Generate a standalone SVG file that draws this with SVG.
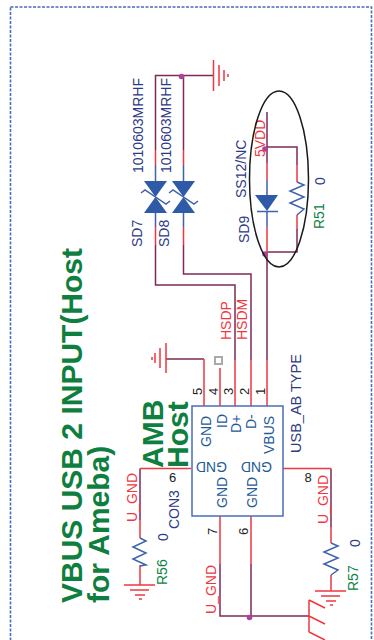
<svg xmlns="http://www.w3.org/2000/svg" width="374" height="640" viewBox="0 0 374 640">
<style>
text{font-family:"Liberation Sans",Arial,sans-serif}
.w,.r,.b,.g,.k{fill:none;stroke-width:1.5}
.w{stroke:#7f2a55}.r{stroke:#f0373f}.b{stroke:#3f62ab}.g{stroke:#f0373f}
.k{stroke:#1a1a1a}
.d{fill:#a8459a}
.t{fill:#2f5aa8}
.l{font-size:14px;fill:#2e3a86}
.n{font-size:14px;fill:#f0373f}
.p{font-size:14px;fill:#1e5a96}
.v{font-size:14px;fill:#0e8243}
.c{font-size:13px;fill:#222}
.h{font-weight:700;fill:#0e7f3e;font-size:30px}
</style>
<rect x="10.500" y="7" width="361" height="660" fill="none" stroke="#4a6cb8" stroke-width="1.600" stroke-dasharray="3 1.500"/>
<g id="connectors">
<path class="w" d="M183.500 150V75.500M155.500 150V75.500H213M155.500 245V285H235V360M183.500 245V274H251V360M267 112V163M267 255V360M267 147H297V165M267 252H297V229M166 359H204M220 564V616H309M251 564V616M140 520V468.500M331 527V468.500"/>
<path class="r" d="M155.500 150V165M183.500 150V165M155.500 227V245M183.500 227V245M267 163V180M267 227V255M297 165V182M297 215V229M204 359V406M220 368V406M235 360V406M251 360V406M267 360V406M140 468.500H191M283 468.500H331M220 516V564M251 516V564M140 520V538M140 565V585M331 527V543M331 575V591"/>
<path class="b" d="M155.500 165V181M183.500 165V181M155.500 213V227M183.500 213V227M267 180V195M267 211V227"/>
</g>
<g id="gnd-top"><path class="g" d="M213.500 60V91M219 65V86M224 70V81M228 74V77"/></g>
<g id="gnd-con"><path class="g" d="M166 343V373M160 348V368M155 353V363M152 357V360"/></g>
<g id="gnd-r56"><path class="g" d="M124 585H155M130 590H149M135 595H145M139 599H142"/></g>
<g id="gnd-r57"><path class="g" d="M315 591H346M321 596H340M326 601H336M330 605H333"/></g>
<g id="chassis"><path class="r" d="M309 600V632M309 600L325 608M309 616L325 624M309 632L325 640"/></g>
<g id="j" class="d"><circle cx="181.500" cy="76.500" r="2.800"/><circle cx="265" cy="149" r="2.800"/><circle cx="265" cy="254" r="2.800"/><circle cx="249.500" cy="617.500" r="2.800"/></g>
<g id="SD7"><path class="t" d="M144 181H167L155.500 197L167 213H144L155.500 197Z"/><path class="b" d="M141 193L145 190L166 204L170 201"/>
<text class="l" transform="translate(143 173) rotate(-90)">1010603MRHF</text><text class="l" transform="translate(142 247) rotate(-90)">SD7</text></g>
<g id="SD8"><path class="t" d="M172 181H195L183.500 197L195 213H172L183.500 197Z"/><path class="b" d="M169 193L173 190L194 204L198 201"/>
<text class="l" transform="translate(171 173) rotate(-90)">1010603MRHF</text><text class="l" transform="translate(169 247) rotate(-90)">SD8</text></g>
<g id="SD9"><path class="t" d="M255 195H278L267 211Z"/><path class="b" d="M257 211.500H278"/>
<text class="l" transform="translate(246 198) rotate(-90)">SS12/NC</text><text class="l" transform="translate(249 243) rotate(-90)">SD9</text></g>
<g id="R51"><path class="b" d="M297 182L304 185L290 191L304 197L290 203L304 209L297 215"/>
<text class="v" transform="translate(324 229) rotate(-90)">R51</text><text class="l" transform="translate(325 185) rotate(-90)">0</text></g>
<text class="n" transform="translate(265 157) rotate(-90)">5VDD</text>
<ellipse id="oval" cx="279" cy="179" rx="29.500" ry="88" class="k"/>
<g id="CON3"><rect x="192" y="406" width="91" height="110" fill="#fff" stroke="#4a6cb8" stroke-width="1.500"/>
<rect x="215" y="357" width="7" height="7" fill="#fff" stroke="#aaa" stroke-width="2"/>
<text class="c" transform="translate(202 395) rotate(-90)">5</text><text class="c" transform="translate(218 395) rotate(-90)">4</text><text class="c" transform="translate(233 395) rotate(-90)">3</text><text class="c" transform="translate(249 395) rotate(-90)">2</text><text class="c" transform="translate(265 395) rotate(-90)">1</text>
<text class="p" transform="translate(211 447) rotate(-90)">GND</text><text class="p" transform="translate(227 428) rotate(-90)">ID</text><text class="p" transform="translate(241 433) rotate(-90)">D+</text><text class="p" transform="translate(256 429) rotate(-90)">D-</text><text class="p" transform="translate(274 454) rotate(-90)">VBUS</text>
<text class="p" transform="translate(227 462) rotate(180)">GND</text><text class="p" transform="translate(272 462) rotate(180)">GND</text>
<text class="p" transform="translate(227 508) rotate(-90)">GND</text><text class="p" transform="translate(257 508) rotate(-90)">GND</text>
<text class="c" x="169" y="482">6</text><text class="c" x="304.500" y="482">8</text><text class="c" transform="translate(217 535) rotate(-90)">7</text><text class="c" transform="translate(248 535) rotate(-90)">6</text>
<text class="l" transform="translate(300.500 453) rotate(-90)" style="font-size:14.500px">USB_AB TYPE</text><text class="l" transform="translate(179 529) rotate(-90)">CON3</text></g>
<g id="R56"><path class="b" d="M140 538L146 541L133 547L146 553L133 559L146 565L140 566"/>
<text class="v" transform="translate(166.500 585) rotate(-90)">R56</text><text class="l" transform="translate(168 541) rotate(-90)">0</text></g>
<g id="R57"><path class="b" d="M331 543L338 546L324 552L338 558L324 564L338 570L331 575"/>
<text class="v" transform="translate(358 591) rotate(-90)">R57</text><text class="l" transform="translate(360 547) rotate(-90)">0</text></g>
<g id="nets"><text class="n" transform="translate(231 340) rotate(-90)">HSDP</text><text class="n" transform="translate(247 340) rotate(-90)">HSDM</text>
<text class="n" transform="translate(136.500 522) rotate(-90)">U_GND</text><text class="n" transform="translate(216 614) rotate(-90)">U_GND</text><text class="n" transform="translate(328 524) rotate(-90)">U_GND</text></g>
<g id="titles"><text class="h" transform="translate(82 603) rotate(-90)">VBUS USB 2 INPUT(Host</text><text class="h" transform="translate(109 603) rotate(-90)">for Ameba)</text>
<text class="h" transform="translate(163 468) rotate(-90)">AMB</text><text class="h" transform="translate(188 468) rotate(-90)">Host</text></g>
</svg>
